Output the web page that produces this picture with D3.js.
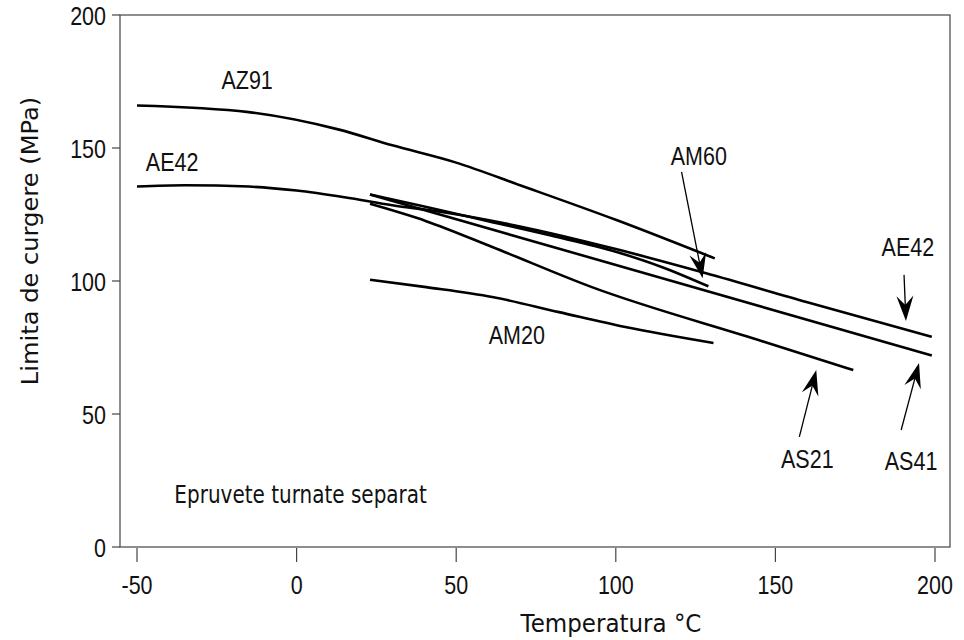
<!DOCTYPE html>
<html><head><meta charset="utf-8">
<script src="https://cdn.jsdelivr.net/npm/d3@7"></script>
<style>html,body{margin:0;padding:0;background:#fff;}svg{display:block;}</style>
</head><body>
<svg id="chart" width="964" height="640"></svg>
<script>
// ---- data ----
const xTicks = [-50, 0, 50, 100, 150, 200];
const yTicks = [0, 50, 100, 150, 200];
const az91 = [[-50,166],[-15,163.5],[13,157],[30,151],[50,144.5],[70,136],[100,123],[131,108.5]];
const ae42 = [[-50,135.5],[-35,136],[-15,135.5],[0,134],[15,131.5],[30,128.5],[45,126],[70,120.5],[100,112],[128,103],[160,92],[199,79]];
const am60 = [[23,132.5],[40,128],[60,122.5],[80,117],[100,111],[115,105],[129,98]];
const as41 = [[23,132.5],[199,72]];
const as21 = [[23,129],[40.6,122.5],[61.3,112.8],[92.5,97.7],[144.7,77.8],[174.4,66.5]];
const am20 = [[23,100.5],[40.6,97.7],[61.3,94],[82.2,88.3],[103,82.7],[130.6,76.7]];
const seriesNames = ["AZ91","AE42","AM60","AS41","AS21","AM20"];
const labelTexts = ["AZ91","AE42","AM60","AE42","AM20","AS21","AS41"];
const labelX = [-15.5, -39, 126, 191.5, 69, 160, 192.5];
const labelY = [175.5, 144.5, 147, 112.5, 79.5, 33, 32];
const arrowFrom = [[120.6,141],[190.3,102.3],[157.5,41.4],[189.4,44]];
const arrowTo   = [[127.2,101],[190.9,85],[162.8,66.5],[195,69.2]];
const noteText = "Epruvete turnate separat";
const noteX = -38.3, noteY = 20;
const xTitle = "Temperatura °C";
const yTitle = "Limita de curgere (MPa)";

// ---- drawing ----
const svg = d3.select("#chart");
const x = d3.scaleLinear().domain([-50, 200]).range([137, 935]);
const y = d3.scaleLinear().domain([0, 200]).range([547, 15]);
const frame = {l:120, t:15, r:950, b:547};
const ARIAL = "'Liberation Sans', Arial, sans-serif";
const VERD = "'DejaVu Sans', Verdana, sans-serif";

function stext(px, py, txt, opts) {
  const sy = opts.sy || 1.17;
  const g = svg.append("g").attr("transform", `translate(${px},${py}) scale(1,${sy})`);
  const t = g.append("text").text(txt)
    .attr("font-family", opts.family || ARIAL)
    .attr("font-size", opts.size || 21)
    .attr("fill", opts.fill || "#111")
    .attr("text-anchor", opts.anchor || "middle")
    .attr("dominant-baseline", opts.baseline || "central");
  if (opts.rotate) t.attr("transform", `rotate(${opts.rotate})`);
  return t;
}

// frame
svg.append("rect").attr("x", frame.l).attr("y", frame.t)
  .attr("width", frame.r - frame.l).attr("height", frame.b - frame.t)
  .attr("fill", "none").attr("stroke", "#444").attr("stroke-width", 1.2);

// y axis ticks & labels
yTicks.forEach(v => {
  svg.append("line").attr("x1", frame.l - 8).attr("x2", frame.l)
    .attr("y1", y(v)).attr("y2", y(v)).attr("stroke", "#444").attr("stroke-width", 1.2);
  stext(frame.l - 14, y(v) + 1, String(v), {anchor: "end", size: 21.5});
});
// x axis ticks & labels
xTicks.forEach(v => {
  svg.append("line").attr("x1", x(v)).attr("x2", x(v))
    .attr("y1", frame.b + 1).attr("y2", frame.b + 15).attr("stroke", "#444").attr("stroke-width", 1.2);
  stext(x(v), 585, String(v), {size: 21.5});
});

// axis titles
stext(611, 632, xTitle, {family: VERD, size: 23, sy: 1.1, baseline: "alphabetic"});
stext(30, 241, yTitle, {family: VERD, size: 23, sy: 1.05, rotate: -90});

// curves
const line = d3.line().x(d => x(d[0])).y(d => y(d[1])).curve(d3.curveMonotoneX);
[az91, ae42, am60, as41, as21, am20].forEach((s, i) => {
  svg.append("path").datum(s).attr("class", "series-" + seriesNames[i])
    .attr("d", line).attr("fill", "none").attr("stroke", "#000")
    .attr("stroke-width", 2.6).attr("stroke-linecap", "butt");
});

// series labels
labelTexts.forEach((t, i) => stext(x(labelX[i]), y(labelY[i]), t, {size: 21.5}));

// note
stext(x(noteX), y(noteY), noteText, {family: VERD, size: 20, sy: 1.25, anchor: "start"});

// arrows
arrowFrom.forEach((f, i) => {
  const to = arrowTo[i];
  const x0 = x(f[0]), y0 = y(f[1]), x1 = x(to[0]), y1 = y(to[1]);
  const dx = x1 - x0, dy = y1 - y0, L = Math.hypot(dx, dy);
  const ux = dx / L, uy = dy / L, px = -uy, py = ux;
  const hl = 25, hw = 8.5, notch = 9;
  svg.append("line").attr("x1", x0).attr("y1", y0)
    .attr("x2", x1 - ux * notch).attr("y2", y1 - uy * notch)
    .attr("stroke", "#000").attr("stroke-width", 1.3);
  const p = d3.path();
  p.moveTo(x1, y1);
  p.lineTo(x1 - ux * hl + px * hw, y1 - uy * hl + py * hw);
  p.lineTo(x1 - ux * (hl - notch), y1 - uy * (hl - notch));
  p.lineTo(x1 - ux * hl - px * hw, y1 - uy * hl - py * hw);
  p.closePath();
  svg.append("path").attr("d", p.toString()).attr("fill", "#000");
});
</script>
</body></html>
